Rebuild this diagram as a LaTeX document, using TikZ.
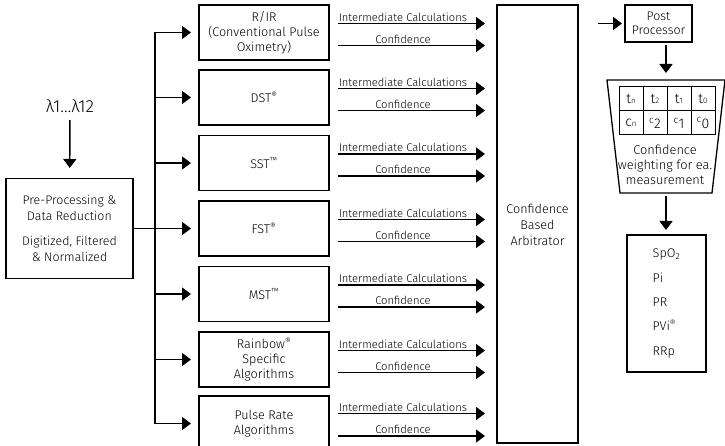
\documentclass[tikz,border=0pt]{standalone}
\usepackage{fontspec}
\setmainfont{Fira Sans Light}
\usetikzlibrary{arrows.meta}

\tikzset{
  algbox/.style = {rectangle,
      draw = black,
      line width = 1.3pt,
      outer sep = 0pt,
      align = center,
      font = \fontsize{12.6}{15}\selectfont,
      minimum width = 130pt,
      minimum height = 55pt},
  arr/.style = {line width = 1.4pt, -{Triangle[length=9pt,width=13pt]}},
  lbl/.style = {above, inner sep = 1.2pt, font = \fontsize{11.2}{13}\selectfont},
  cell/.style = {rectangle, draw = black, line width = 1pt, outer sep = 0pt,
      minimum size = 24pt, inner sep = 0pt, font = \fontsize{14}{16}\selectfont}
}

\begin{document}
\begin{tikzpicture}[x=1pt, y=-1pt]
\useasboundingbox (0,0) rectangle (725,446);

% input
\node[font = \fontsize{17.5}{20}\selectfont] (lam) at (70,106) {λ1…λ12};

\node[rectangle,
    draw = black,
    line width = 1.3pt,
    outer sep = 0pt,
    align = center,
    font = \fontsize{12.4}{16}\selectfont,
    minimum width = 127pt,
    minimum height = 100pt] (pre) at (69.5,228.5) {Pre-Processing \&\\Data Reduction\\[9pt]Digitized, Filtered\\\& Normalized};

\draw[arr, shorten <=4pt, shorten >=10.5pt] (lam) -- (pre);

% algorithms
\node[algbox] (rir) at (264,32.5) {R/IR\\(Conventional Pulse\\Oximetry)};
\node[algbox] (dst) at (264,97.5) {DST\textsuperscript{®}};
\node[algbox] (sst) at (264,163) {SST\textsuperscript{™}};
\node[algbox] (fst) at (264,228.5) {FST\textsuperscript{®}};
\node[algbox] (mst) at (264,294) {MST\textsuperscript{™}};
\node[algbox] (rbw) at (264,359.5) {Rainbow\textsuperscript{®}\\Specific\\Algorithms};
\node[algbox] (prt) at (264,423.5) {Pulse Rate\\Algorithms};

% arbitrator
\node[rectangle,
    draw = black,
    line width = 1.3pt,
    outer sep = 0pt,
    align = center,
    font = \fontsize{12.6}{16}\selectfont,
    minimum width = 81pt,
    minimum height = 438pt] (arb) at (537.5,224) {\\[-4pt]Confidence\\Based\\Arbitrator};

% trunk and branches
\coordinate (tk) at (155,0);
\draw[line width = 1.4pt] (tk |- rir.west) -- (tk |- prt.west);
\draw[arr, shorten >=8pt] (tk |- rir.west) -- (rir.west);
\draw[arr, shorten >=8pt] (tk |- dst.west) -- (dst.west);
\draw[arr, shorten >=8pt] (tk |- sst.west) -- (sst.west);
\draw[arr, shorten >=8pt] (pre.east) -- (fst.west);
\draw[arr, shorten >=8pt] (tk |- mst.west) -- (mst.west);
\draw[arr, shorten >=8pt] (tk |- rbw.west) -- (rbw.west);
\draw[arr, shorten >=8pt] (tk |- prt.west) -- (prt.west);

% outputs
\draw[arr, shorten <=9pt, shorten >=12pt] ([yshift=9pt]rir.east) -- ([yshift=9pt]rir.east -| arb.west) node[lbl, pos=0.44] {Intermediate Calculations};
\draw[arr, shorten <=9pt, shorten >=12pt] ([yshift=-13pt]rir.east) -- ([yshift=-13pt]rir.east -| arb.west) node[lbl, pos=0.44] {Confidence};

\draw[arr, shorten <=9pt, shorten >=12pt] ([yshift=9pt]dst.east) -- ([yshift=9pt]dst.east -| arb.west) node[lbl, pos=0.44] {Intermediate Calculations};
\draw[arr, shorten <=9pt, shorten >=12pt] ([yshift=-13pt]dst.east) -- ([yshift=-13pt]dst.east -| arb.west) node[lbl, pos=0.44] {Confidence};

\draw[arr, shorten <=9pt, shorten >=12pt] ([yshift=9pt]sst.east) -- ([yshift=9pt]sst.east -| arb.west) node[lbl, pos=0.44] {Intermediate Calculations};
\draw[arr, shorten <=9pt, shorten >=12pt] ([yshift=-13pt]sst.east) -- ([yshift=-13pt]sst.east -| arb.west) node[lbl, pos=0.44] {Confidence};

\draw[arr, shorten <=9pt, shorten >=12pt] ([yshift=9pt]fst.east) -- ([yshift=9pt]fst.east -| arb.west) node[lbl, pos=0.44] {Intermediate Calculations};
\draw[arr, shorten <=9pt, shorten >=12pt] ([yshift=-13pt]fst.east) -- ([yshift=-13pt]fst.east -| arb.west) node[lbl, pos=0.44] {Confidence};

\draw[arr, shorten <=9pt, shorten >=12pt] ([yshift=9pt]mst.east) -- ([yshift=9pt]mst.east -| arb.west) node[lbl, pos=0.44] {Intermediate Calculations};
\draw[arr, shorten <=9pt, shorten >=12pt] ([yshift=-13pt]mst.east) -- ([yshift=-13pt]mst.east -| arb.west) node[lbl, pos=0.44] {Confidence};

\draw[arr, shorten <=9pt, shorten >=12pt] ([yshift=9pt]rbw.east) -- ([yshift=9pt]rbw.east -| arb.west) node[lbl, pos=0.44] {Intermediate Calculations};
\draw[arr, shorten <=9pt, shorten >=12pt] ([yshift=-13pt]rbw.east) -- ([yshift=-13pt]rbw.east -| arb.west) node[lbl, pos=0.44] {Confidence};

\draw[arr, shorten <=9pt, shorten >=12pt] ([yshift=10pt]prt.east) -- ([yshift=10pt]prt.east -| arb.west) node[lbl, pos=0.44] {Intermediate Calculations};
\draw[arr, shorten <=9pt, shorten >=12pt] ([yshift=-12.5pt]prt.east) -- ([yshift=-12.5pt]prt.east -| arb.west) node[lbl, pos=0.44] {Confidence};

% post processing
\node[rectangle,
    draw = black,
    line width = 1.3pt,
    outer sep = 0pt,
    align = center,
    font = \fontsize{12.4}{14}\selectfont,
    minimum width = 67pt,
    minimum height = 37pt] (post) at (658.5,23.5) {Post\\Processor};

\draw[arr, shorten <=20pt, shorten >=3pt] (arb.east |- post.west) -- (post.west);

% weighting
\node[minimum width = 118pt, minimum height = 113pt, outer sep = 0pt] (trap) at (666,136.5) {};
\draw[line width = 1.3pt] (trap.north west) -- (trap.north east)
  -- ([xshift=-13pt]trap.south east) -- ([xshift=13pt]trap.south west) -- cycle;

\node[cell] (t3) at (631,99) {t{\footnotesize n}};
\node[cell] (t2) at (655,99) {t{\footnotesize 2}};
\node[cell] (t1) at (679,99) {t{\footnotesize 1}};
\node[cell] (t0) at (703,99) {t{\footnotesize 0}};
\node[cell] (c3) at (631,123) {c{\footnotesize n}};
\node[cell] (c2) at (655,123) {\textsuperscript{c}2};
\node[cell] (c1) at (679,123) {\textsuperscript{c}1};
\node[cell] (c0) at (703,123) {\textsuperscript{c}0};

\node[align = center, font = \fontsize{12.8}{15}\selectfont] (wtxt) at (665,165) {Confidence\\weighting for ea.\\measurement};

\draw[arr, shorten <=3pt, shorten >=7pt] (trap.north |- post.south) -- (trap.north);

% results
\node[rectangle,
    draw = black,
    line width = 1.3pt,
    outer sep = 0pt,
    align = left,
    font = \fontsize{12.6}{24.3}\selectfont,
    minimum width = 79pt,
    minimum height = 137pt] (res) at (666.5,303.5) {SpO\textsubscript{2}\\Pi\\PR\\PVi\textsuperscript{®}\\RRp};

\draw[arr, shorten <=3pt, shorten >=5pt] (trap.south) -- (trap.south |- res.north);

\end{tikzpicture}
\end{document}
